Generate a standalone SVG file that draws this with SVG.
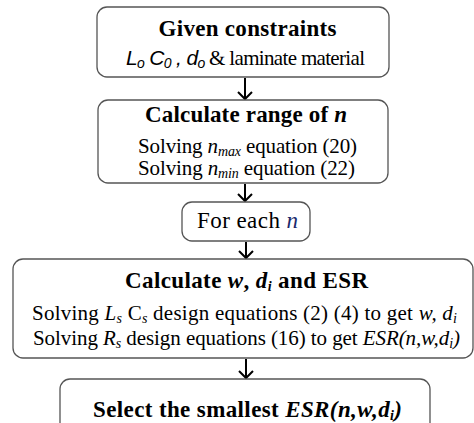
<svg xmlns="http://www.w3.org/2000/svg" width="474" height="423" viewBox="0 0 474 423">
<style>
.box{fill:#fff;stroke:#555;stroke-width:1.3}
.t{font-family:"Liberation Serif","Times New Roman",serif;fill:#000;text-anchor:middle}
.b{font-weight:bold;font-size:23px}
.r{font-size:21px}
.i{font-style:italic}
.s{font-family:"Liberation Sans",Arial,sans-serif;font-style:italic}
.sub{font-size:14px}
.blue{fill:#1a2a6c}
.c line{stroke:#000;stroke-width:2}
.c path{fill:none;stroke:#000;stroke-width:2}
</style>
<g class="c" id="connectors">
<line x1="245" y1="78" x2="245" y2="99"/>
<path d="M238,92 L245,99 L252,92"/>
<line x1="245" y1="184" x2="245" y2="201"/>
<path d="M238,194 L245,201 L252,194"/>
<line x1="246" y1="242" x2="246" y2="258"/>
<path d="M239,251 L246,258 L253,251"/>
<line x1="246" y1="359" x2="246" y2="378"/>
<path d="M239,371 L246,378 L253,371"/>
</g>
<g id="n1">
<rect class="box" x="97" y="7" width="292" height="70" rx="10"/>
<text class="t b" x="247.5" y="36" textLength="178">Given constraints</text>
<text class="t r" x="245.5" y="65" textLength="239"><tspan class="s">L</tspan><tspan class="s sub" dy="3">o</tspan><tspan class="s" dy="-3"> C</tspan><tspan class="s sub" dy="3">0</tspan><tspan class="s" dy="-3"> , d</tspan><tspan class="s sub" dy="3">o</tspan><tspan dy="-3"> &amp; laminate material</tspan></text>
</g>
<g id="n2">
<rect class="box" x="98" y="100" width="290" height="83" rx="10"/>
<text class="t b" x="246" y="122" textLength="202">Calculate range of <tspan class="i">n</tspan></text>
<text class="t r" x="247.5" y="153" textLength="219">Solving <tspan class="i">n</tspan><tspan class="i sub" dy="3">max</tspan><tspan dy="-3"> equation (20)</tspan></text>
<text class="t r" x="246.5" y="175" textLength="217">Solving <tspan class="i">n</tspan><tspan class="i sub" dy="3">min</tspan><tspan dy="-3"> equation (22)</tspan></text>
</g>
<g id="n3">
<rect class="box" x="182" y="202" width="128" height="39" rx="10"/>
<text class="t r" x="247.5" y="228" textLength="101" style="font-size:23px">For each <tspan class="i blue">n</tspan></text>
</g>
<g id="n4">
<rect class="box" x="13" y="259" width="460" height="99" rx="10"/>
<text class="t b" x="246.5" y="288" textLength="243">Calculate <tspan class="i">w</tspan>, <tspan class="i">d</tspan><tspan class="i sub" dy="3">i</tspan><tspan dy="-3"> and ESR</tspan></text>
<text class="t r" x="244.5" y="320" textLength="425">Solving <tspan class="i">L</tspan><tspan class="i sub" dy="3">s</tspan><tspan dy="-3"> C</tspan><tspan class="i sub" dy="3">s</tspan><tspan dy="-3"> design equations (2) (4) to get </tspan><tspan class="i">w, d</tspan><tspan class="i sub" dy="3">i</tspan></text>
<text class="t r" x="246.5" y="345" textLength="427">Solving <tspan class="i">R</tspan><tspan class="i sub" dy="3">s</tspan><tspan dy="-3"> design equations (16) to get </tspan><tspan class="i">ESR(n,w,d</tspan><tspan class="i sub" dy="3">i</tspan><tspan class="i" dy="-3">)</tspan></text>
</g>
<g id="n5">
<rect class="box" x="60" y="379" width="370" height="60" rx="10"/>
<text class="t b" x="247.5" y="417" textLength="309">Select the smallest <tspan class="i">ESR(n,w,d</tspan><tspan class="i sub" dy="3">i</tspan><tspan class="i" dy="-3">)</tspan></text>
</g>
</svg>
